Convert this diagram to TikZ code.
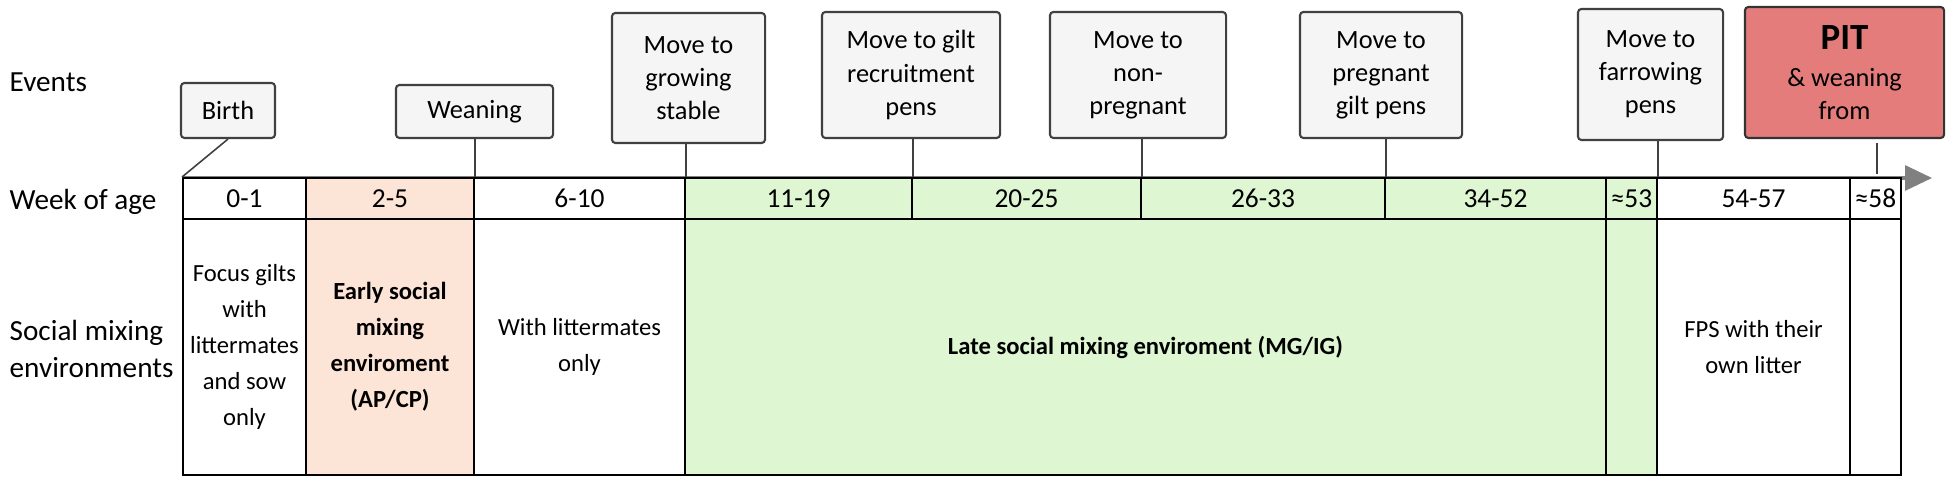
\documentclass[tikz,border=0pt]{standalone}
\usepackage{fontspec}
\setmainfont{Carlito}
\usepackage{tikz}
\usetikzlibrary{arrows.meta}
\tikzset{>=Stealth}
\definecolor{evfill}{RGB}{245,245,245}
\definecolor{evdraw}{RGB}{64,64,64}
\definecolor{earlycol}{RGB}{252,228,214}
\definecolor{latecol}{RGB}{222,246,210}
\definecolor{pitcol}{RGB}{229,124,124}
\definecolor{axiscol}{RGB}{128,128,128}
\tikzset{
    event/.style={draw=evdraw, fill=evfill, line width=0.6pt, rounded corners=1pt,
        align=center, inner sep=0pt, font=\fontsize{7.5}{9.4}\selectfont},
    week/.style={draw=black, line width=0.55pt, inner sep=0pt,
        minimum height=0.41cm, font=\fontsize{7.8}{9}\selectfont},
    env/.style={draw=black, line width=0.55pt, inner sep=0pt, align=center,
        minimum height=2.56cm, font=\fontsize{7}{10.2}\selectfont},
    envbold/.style={env, font=\fontsize{7}{10.2}\selectfont\bfseries},
    rowlabel/.style={anchor=west, align=left, inner sep=0pt,
        font=\fontsize{8.3}{10.6}\selectfont},
    pin/.style={draw=evdraw, line width=0.45pt},
    timeline/.style={draw=axiscol, line width=0.9pt,
        -{Triangle[length=0.27cm, width=0.25cm]}}
}

\begin{document}
\begin{tikzpicture}[x=0.01cm, y=-0.01cm]
    \useasboundingbox (0,0) rectangle (1949,483);

    % row labels
    \node[rowlabel] (lblev) at (9,82) {Events};
    \node[rowlabel] (lblwk) at (9,202) {Week of age};
    \node[rowlabel] (lblenv) at (9,349) {Social mixing\\environments};

    % time axis
    \coordinate (axstart) at (183,178);
    \coordinate (axtip) at (1932,178);
    \draw[timeline] (axstart) -- (axtip);

    % week of age
    \foreach \a/\b/\c/\t [count=\i] in {183/306/white/0-1, 306/474/earlycol/2-5,
        474/685/white/6-10, 685/912/latecol/11-19, 912/1141/latecol/20-25,
        1141/1385/latecol/26-33, 1385/1606/latecol/34-52, 1606/1657/latecol/{≈53},
        1657/1850/white/54-57, 1850/1901/white/{≈58}}{
        \pgfmathsetmacro\w{(\b-\a)*0.01}
        \node[week, fill=\c, minimum width=\w cm] (wk\i) at ({(\a+\b)/2},198.5) {\t};
    }

    % social mixing environments
    \node[env, minimum width=1.23cm] (env1) at (244.5,347)
        {Focus gilts\\with\\littermates\\and sow\\only};
    \node[envbold, fill=earlycol, minimum width=1.68cm] (env2) at (390,347)
        {Early social\\mixing\\enviroment\\(AP/CP)};
    \node[env, minimum width=2.11cm] (env3) at (579.5,347) {With littermates\\only};
    \node[envbold, fill=latecol, minimum width=9.21cm] (env4) at (1145.5,347)
        {Late social mixing enviroment (MG/IG)};
    \node[env, fill=latecol, minimum width=0.51cm] (env5) at (1631.5,347) {};
    \node[env, minimum width=1.93cm] (env6) at (1753.5,347) {FPS with their\\own litter};
    \node[env, minimum width=0.51cm] (env7) at (1875.5,347) {};

    % events
    \node[event, minimum width=0.94cm, minimum height=0.55cm] (ev1) at (228,110.5) {Birth};
    \node[event, minimum width=1.57cm, minimum height=0.53cm] (ev2) at (474.5,111.5) {Weaning};
    \node[event, minimum width=1.53cm, minimum height=1.30cm] (ev3) at (688.5,78)
        {Move to\\growing\\stable};
    \node[event, minimum width=1.78cm, minimum height=1.26cm] (ev4) at (911,75)
        {Move to gilt\\recruitment\\pens};
    \node[event, minimum width=1.76cm, minimum height=1.26cm] (ev5) at (1138,75)
        {Move to\\non-\\pregnant};
    \node[event, minimum width=1.62cm, minimum height=1.26cm] (ev6) at (1381,75)
        {Move to\\pregnant\\gilt pens};
    \node[event, minimum width=1.45cm, minimum height=1.31cm] (ev7) at (1650.5,74.5)
        {Move to\\farrowing\\pens};
    \node[event, fill=pitcol, draw=black!80, minimum width=1.99cm, minimum height=1.31cm]
        (ev8) at (1844.5,72.5)
        {{\fontsize{10.5}{12}\selectfont\bfseries PIT}\\[1pt]\& weaning\\from};

    \coordinate (pitpin) at (1877,174);
    \path[pin]
    (ev1.south) edge (wk1.north west)
    (wk2.north east) edge (wk2.north east |- ev2.south)
    (wk3.north east) edge (wk3.north east |- ev3.south)
    (wk4.north east) edge (wk4.north east |- ev4.south)
    (wk5.north east) edge (wk5.north east |- ev5.south)
    (wk6.north east) edge (wk6.north east |- ev6.south)
    (wk8.north east) edge (wk8.north east |- ev7.south)
    (pitpin) edge[shorten >=0.04cm] (pitpin |- ev8.south)
    ;
\end{tikzpicture}
\end{document}
